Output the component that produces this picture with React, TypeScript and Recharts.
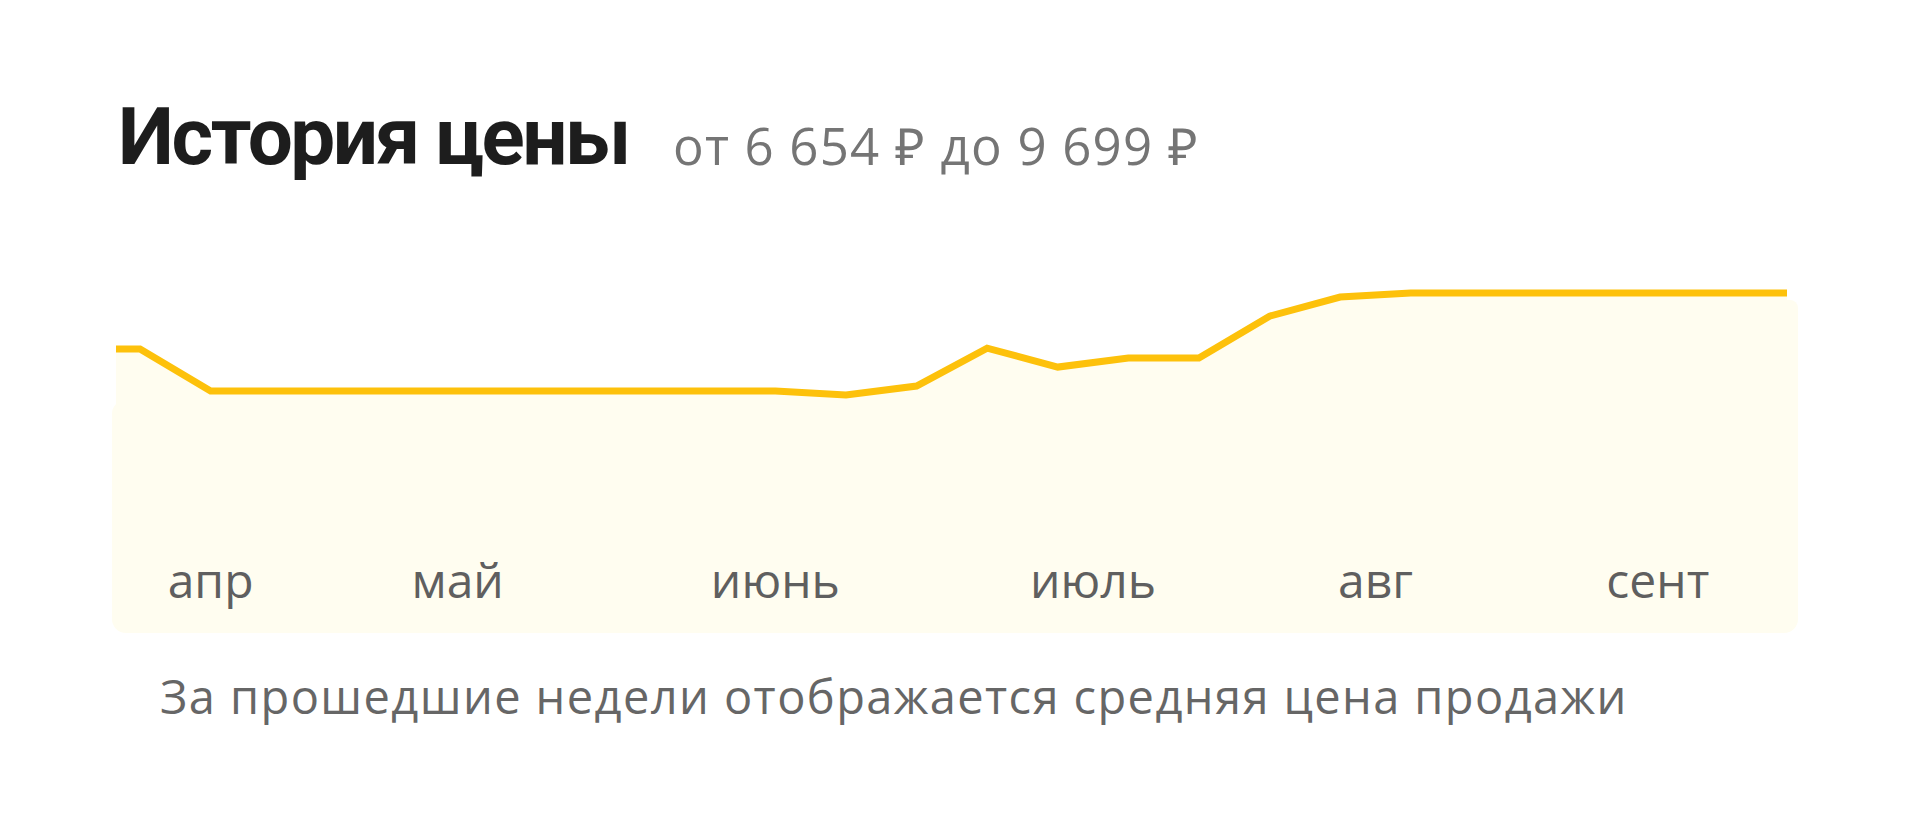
import { Area, AreaChart, XAxis, YAxis } from "recharts";

// weekly average sale price, rubles (first and last weeks are partly cut off by the frame)
const weekPrices = [
	8030, 8030, 6775, 6775, 6775, 6775, 6775, 6775, 6775, 6775, 6775, 6654,
	6925, 8055, 7490, 7760, 7760, 9010, 9580, 9699, 9699, 9699, 9699, 9699,
	9699, 9699,
];

// month starts, in weeks from the first point
const monthTicks = [2, 5.5, 10, 14.5, 18.5, 22.5];
const monthLabels = ["апр", "май", "июнь", "июль", "авг", "сент"];

const minPrice = "6 654";
const maxPrice = "9 699";

const data = weekPrices.map((price, week) => ({ week, price }));

const LINE = "#fdc10b";
const CREAM = "#fffdf0";

function MonthTick(props: any) {
	const { x, y, payload } = props;
	const i = monthTicks.indexOf(payload.value);
	return (
		<text
			x={x}
			y={y + 47}
			textAnchor="middle"
			fill="#5f5f5f"
			fontSize={48}
			fontFamily="'Open Sans', sans-serif"
		>
			{monthLabels[i]}
		</text>
	);
}

export default function App() {
	return (
		<div
			style={{
				position: "relative",
				width: 1920,
				height: 822,
				overflow: "hidden",
				background: "#fff",
				fontFamily: "'Open Sans', sans-serif",
			}}
		>
			<style>{"body{margin:0}"}</style>
			<div
				style={{
					position: "absolute",
					left: 112,
					top: 400,
					width: 1686,
					height: 233,
					background: CREAM,
					borderRadius: 14,
				}}
			/>
			<div
				style={{
					position: "absolute",
					left: 1780,
					top: 300,
					width: 18,
					height: 200,
					background: CREAM,
					borderRadius: 8,
				}}
			/>
			<div
				style={{
					position: "absolute",
					left: 118,
					top: 177,
					transform: "translateY(-100%)",
					whiteSpace: "nowrap",
					lineHeight: 1,
					fontFamily: "Roboto, sans-serif",
					fontWeight: 700,
					fontSize: 80,
					color: "#1d1d1d",
					letterSpacing: -2.5,
				}}
			>
				История цены
			</div>
			<div
				style={{
					position: "absolute",
					left: 673,
					top: 171,
					transform: "translateY(-100%)",
					whiteSpace: "nowrap",
					lineHeight: 1,
					fontSize: 51,
					color: "#757575",
					letterSpacing: 1.2,
				}}
			>
				от {minPrice} ₽ до {maxPrice} ₽
			</div>
			<AreaChart
				width={1920}
				height={700}
				data={data}
				margin={{ top: 216, right: 133, bottom: 89, left: 116 }}
				style={{ position: "absolute", left: 0, top: 0 }}
			>
				<XAxis
					dataKey="week"
					type="number"
					domain={[0.66, 24.33]}
					allowDataOverflow
					ticks={monthTicks}
					interval={0}
					axisLine={false}
					tickLine={false}
					tickSize={0}
					tickMargin={0}
					height={60}
					tick={<MonthTick />}
				/>
				<YAxis hide domain={[2000, 12000]} allowDataOverflow />
				<Area
					type="linear"
					dataKey="price"
					stroke={LINE}
					strokeWidth={7}
					fill={CREAM}
					fillOpacity={1}
					dot={false}
					activeDot={false}
					isAnimationActive={false}
				/>
			</AreaChart>
			<div
				style={{
					position: "absolute",
					left: 160,
					top: 720,
					transform: "translateY(-100%)",
					whiteSpace: "nowrap",
					lineHeight: 1,
					fontSize: 47,
					color: "#666",
					letterSpacing: 1.4,
				}}
			>
				За прошедшие недели отображается средняя цена продажи
			</div>
		</div>
	);
}
